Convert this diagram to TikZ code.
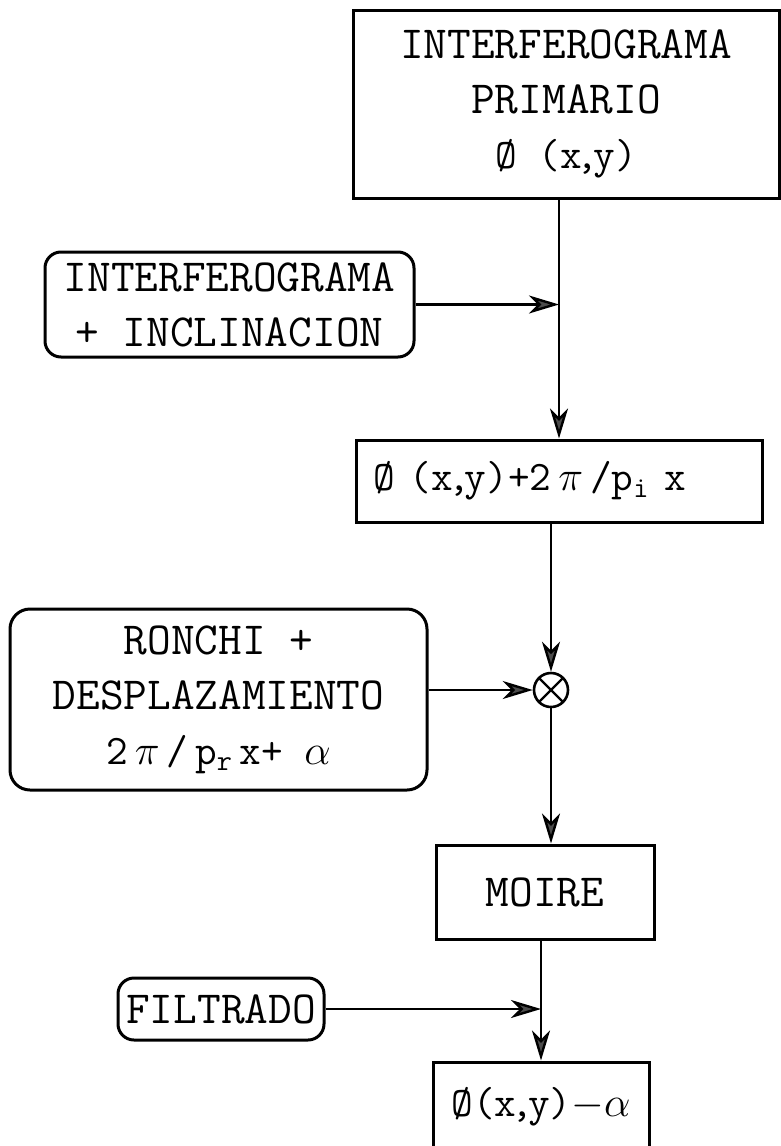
\RequirePackage{fix-cm}
\documentclass[tikz,border=0pt]{standalone}
\usetikzlibrary{arrows.meta}

\newcommand{\pxy}{(x\kern-5pt,\kern-5pt y)}
\newcommand{\fsmall}{\fontsize{42}{55}\selectfont}

\begin{document}
\begin{tikzpicture}
        [x=1pt, y=-1pt,
        font=\fontsize{46}{55}\selectfont\ttfamily,
        block/.style={draw, line width=3pt, inner sep=0pt, align=center},
        rblock/.style={block, rounded corners=16pt},
        flow/.style={line width=2.4pt, -{Stealth[length=30pt, width=18pt, inset=9pt, fill=black!70]}},
        mixer/.style={circle, draw, line width=2.6pt, minimum size=34pt, inner sep=0pt,
          path picture={\draw[line width=2.4pt]
            (path picture bounding box.north east) -- (path picture bounding box.south west)
            (path picture bounding box.north west) -- (path picture bounding box.south east);}}]

        \useasboundingbox (0,0) rectangle (781,1146);
        \clip (0,0) rectangle (781,1146);

        % main chain
        \node[block, minimum width=426pt, minimum height=188pt] (prim) at (566,104) {INTERFEROGRAMA\\PRIMARIO\\{\fsmall Ø \pxy}};
        \node[block, minimum width=406pt, minimum height=82pt, text width=372pt, align=left] (suma) at (559,481) {\fsmall Ø \pxy+2\,$\pi$\,/p\textsubscript{i} x};
        \node[mixer] (mix) at (551,690) {};
        \node[block, minimum width=218pt, minimum height=94pt] (moire) at (545,892) {MOIRE};
        \node[block, minimum width=216pt, minimum height=90pt] (final) at (541,1107) {\fsmall Ø\pxy$-\alpha$};

        % side inputs
        \node[rblock, minimum width=369pt, minimum height=105pt] (incl) at (229.5,304.5) {INTERFEROGRAMA\\+ INCLINACION};
        \node[rblock, rounded corners=20pt, minimum width=417pt, minimum height=181pt] (ronchi) at (218.5,699.5) {RONCHI +\\DESPLAZAMIENTO\\{\fsmall 2\,$\pi$\,/\,p\textsubscript{r}\,x+ $\alpha$}};
        \node[rblock, minimum width=206pt, minimum height=62pt] (filt) at (221,1009) {FILTRADO};

        % junctions on the vertical line
        \coordinate (j1) at (incl.east -| suma.north);
        \coordinate (j2) at (filt.east -| final.north);

        % arrows
        \draw[flow] (prim.south -| suma.north) -- (suma.north);
        \draw[flow] (incl.east) -- (j1);
        \draw[flow] (suma.south -| mix.north) -- (mix.north);
        \draw[flow] (ronchi.east |- mix.west) -- (mix.west);
        \draw[flow] (mix.south) -- (mix.south |- moire.north);
        \draw[flow] (moire.south -| final.north) -- (final.north);
        \draw[flow] (filt.east) -- (j2);

\end{tikzpicture}
\end{document}
